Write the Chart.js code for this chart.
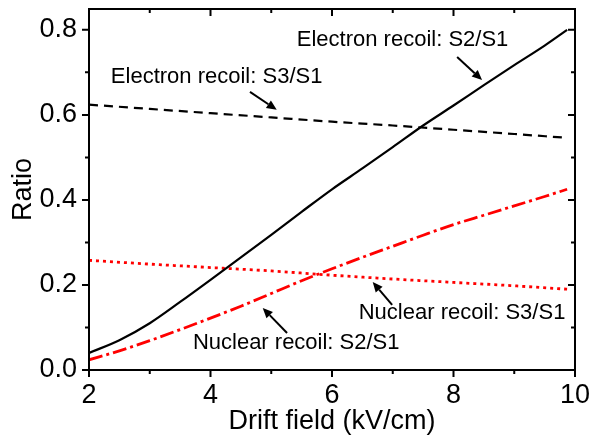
<!DOCTYPE html>
<html>
<head>
<meta charset="utf-8">
<script src="https://cdn.jsdelivr.net/npm/chart.js@4/dist/chart.umd.min.js"></script>
<style>
  html, body { margin: 0; padding: 0; background: #fff; }
  #wrap { width: 591px; height: 439px; }
</style>
</head>
<body>
<div id="wrap"><canvas id="ratioChart" width="591" height="439"></canvas></div>
<script>
// drift field (kV/cm) and ratios
var erS2x = [2, 2.5, 3, 3.5, 4, 4.5, 5, 5.5, 6, 6.5, 7, 7.5, 8, 8.5, 9, 9.5, 9.87];
var erS2y = [0.04, 0.07, 0.11, 0.16, 0.212, 0.265, 0.318, 0.372, 0.425, 0.474, 0.524, 0.575, 0.622, 0.67, 0.717, 0.763, 0.80];

var erS3x = [2, 3, 4, 5, 6, 7, 8, 9, 9.87];
var erS3y = [0.624, 0.614, 0.604, 0.594, 0.584, 0.575, 0.565, 0.555, 0.546];

var nrS2x = [2, 2.5, 3, 3.5, 4, 4.5, 5, 5.5, 6, 6.5, 7, 7.5, 8, 8.5, 9, 9.5, 9.87];
var nrS2y = [0.024, 0.045, 0.069, 0.095, 0.122, 0.15, 0.18, 0.21, 0.238, 0.265, 0.291, 0.317, 0.342, 0.364, 0.386, 0.408, 0.425];

var nrS3x = [2, 3, 4, 5, 6, 7, 8, 9, 9.87];
var nrS3y = [0.258, 0.249, 0.241, 0.233, 0.223, 0.214, 0.206, 0.198, 0.19];

// labels with arrows, in data units: text left/middle, arrow tail -> head
var noteText = ["Electron recoil: S2/S1", "Electron recoil: S3/S1", "Nuclear recoil: S3/S1", "Nuclear recoil: S2/S1"];
var noteAt = [[5.42, 0.776], [2.36, 0.689], [6.44, 0.134], [3.71, 0.064]];
var noteArrow = [[8.06, 0.736, 8.47, 0.682], [4.65, 0.654, 5.09, 0.612], [6.99, 0.153, 6.67, 0.207], [5.26, 0.087, 4.86, 0.146]];

var xTicks = [2, 4, 6, 8, 10];
var yTicks = [0.0, 0.2, 0.4, 0.6, 0.8];

function pts(xs, ys) {
    var out = [];
    for (var i = 0; i < xs.length; i++) out.push({ x: xs[i], y: ys[i] });
    return out;
}

var FONT = "'Liberation Sans', Arial, sans-serif";

var framePlugin = {
    id: 'frame',
    afterDraw: function (chart) {
        var ctx = chart.ctx;
        var a = chart.chartArea;
        var xs = chart.scales.x, ys = chart.scales.y;
        ctx.save();
        ctx.strokeStyle = '#000';
        ctx.lineWidth = 2;
        ctx.strokeRect(a.left, a.top, a.right - a.left, a.bottom - a.top);
        ctx.beginPath();
        // x ticks: every 1, major every 2
        for (var v = 2; v <= 10; v += 1) {
            var px = xs.getPixelForValue(v);
            var len = (v % 2 === 0) ? 7 : 4;
            ctx.moveTo(px, a.bottom); ctx.lineTo(px, a.bottom + len);
            ctx.moveTo(px, a.top); ctx.lineTo(px, a.top + len);
        }
        // y ticks: every 0.1, major every 0.2
        for (var k = 0; k <= 8; k++) {
            var py = ys.getPixelForValue(k / 10);
            var l2 = (k % 2 === 0) ? 7 : 4;
            ctx.moveTo(a.left, py); ctx.lineTo(a.left - l2, py);
            ctx.moveTo(a.right, py); ctx.lineTo(a.right - l2, py);
        }
        ctx.stroke();

        // annotations
        ctx.fillStyle = '#000';
        ctx.font = '22px ' + FONT;
        ctx.textBaseline = 'middle';
        ctx.textAlign = 'left';
        for (var n = 0; n < noteText.length; n++) {
            ctx.fillText(noteText[n], xs.getPixelForValue(noteAt[n][0]), ys.getPixelForValue(noteAt[n][1]));
            var x0 = xs.getPixelForValue(noteArrow[n][0]), y0 = ys.getPixelForValue(noteArrow[n][1]);
            var x1 = xs.getPixelForValue(noteArrow[n][2]), y1 = ys.getPixelForValue(noteArrow[n][3]);
            var ang = Math.atan2(y1 - y0, x1 - x0);
            var hl = 10, hw = 4.5;
            var bx = x1 - hl * Math.cos(ang), by = y1 - hl * Math.sin(ang);
            ctx.beginPath();
            ctx.lineWidth = 2;
            ctx.moveTo(x0, y0); ctx.lineTo(bx, by);
            ctx.stroke();
            ctx.beginPath();
            ctx.moveTo(x1, y1);
            ctx.lineTo(bx + hw * Math.sin(ang), by - hw * Math.cos(ang));
            ctx.lineTo(bx - hw * Math.sin(ang), by + hw * Math.cos(ang));
            ctx.closePath();
            ctx.fill();
        }
        ctx.restore();
    }
};

new Chart(document.getElementById('ratioChart'), {
    type: 'scatter',
    data: {
        datasets: [
            { label: 'Electron recoil: S2/S1', data: pts(erS2x, erS2y), showLine: true, borderColor: '#000', borderWidth: 2.2, pointRadius: 0, cubicInterpolationMode: 'monotone' },
            { label: 'Electron recoil: S3/S1', data: pts(erS3x, erS3y), showLine: true, borderColor: '#000', borderWidth: 2.2, borderDash: [9, 6], pointRadius: 0, cubicInterpolationMode: 'monotone' },
            { label: 'Nuclear recoil: S2/S1', data: pts(nrS2x, nrS2y), showLine: true, borderColor: '#ff0000', borderWidth: 2.8, borderDash: [14, 4, 3, 4], pointRadius: 0, cubicInterpolationMode: 'monotone' },
            { label: 'Nuclear recoil: S3/S1', data: pts(nrS3x, nrS3y), showLine: true, borderColor: '#ff0000', borderWidth: 2.8, borderDash: [3, 4], pointRadius: 0, cubicInterpolationMode: 'monotone' }
        ]
    },
    options: {
        responsive: false,
        animation: false,
        layout: { padding: { top: 9, right: 16, left: 0, bottom: 0 } },
        plugins: { legend: { display: false }, tooltip: { enabled: false } },
        scales: {
            x: {
                type: 'linear', min: 2, max: 10,
                afterFit: function (s) { s.height = 69; s.paddingLeft = 0; s.paddingRight = 0; },
                afterBuildTicks: function (s) { s.ticks = xTicks.map(function (v) { return { value: v }; }); },
                grid: { display: false, drawTicks: false },
                border: { display: false },
                ticks: { color: '#000', padding: 9, font: { family: FONT, size: 27 }, maxRotation: 0 },
                title: { display: true, text: 'Drift field (kV/cm)', color: '#000', font: { family: FONT, size: 27 }, padding: { top: 0, bottom: 1 } }
            },
            y: {
                type: 'linear', min: 0, max: 0.849,
                afterFit: function (s) { s.width = 89; s.paddingTop = 0; s.paddingBottom = 0; },
                afterBuildTicks: function (s) { s.ticks = yTicks.map(function (v) { return { value: v }; }); },
                grid: { display: false, drawTicks: false },
                border: { display: false },
                ticks: { color: '#000', padding: 12, font: { family: FONT, size: 27 }, callback: function (v) { return v.toFixed(1); } },
                title: { display: true, text: 'Ratio', color: '#000', font: { family: FONT, size: 27 }, padding: { top: 7, bottom: 8 } }
            }
        }
    },
    plugins: [framePlugin]
});
</script>
</body>
</html>
